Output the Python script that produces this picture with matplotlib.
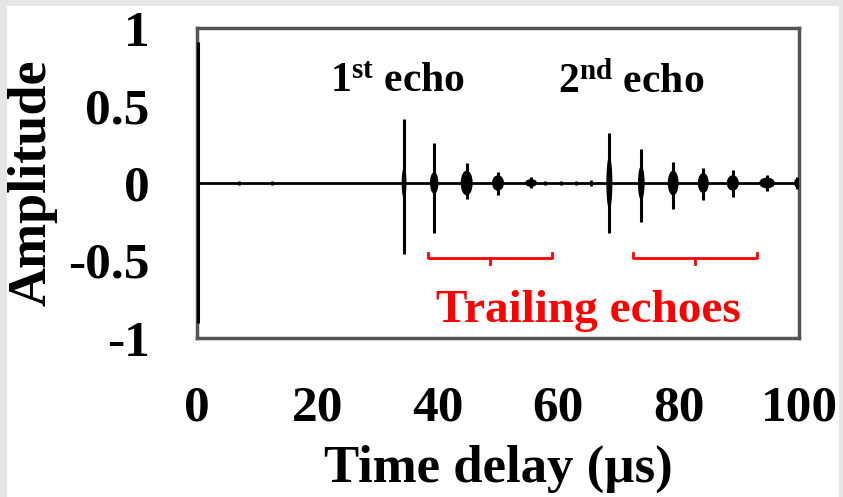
import matplotlib
matplotlib.use("Agg")
import matplotlib.pyplot as plt
from matplotlib.patches import Ellipse, Rectangle

plt.rcParams['font.family'] = ['Liberation Serif', 'DejaVu Serif']
plt.rcParams['font.weight'] = 'bold'
plt.rcParams['mathtext.fontset'] = 'custom'
plt.rcParams['mathtext.rm'] = 'Liberation Serif:bold'
plt.rcParams['mathtext.bf'] = 'Liberation Serif:bold'

# echo packets: time (us), peak up, peak down
echo_t = [0.1, 34.4, 39.4, 44.8, 50.0, 55.5, 68.5, 73.8, 79.1, 84.1, 89.0, 94.7, 99.7]
echo_max = [0.91, 0.41, 0.26, 0.13, 0.07, 0.04, 0.32, 0.22, 0.135, 0.095, 0.085, 0.05, 0.04]
echo_min = [-0.90, -0.46, -0.32, -0.10, -0.075, -0.03, -0.32, -0.25, -0.17, -0.11, -0.09, -0.05, -0.04]
# ringing blob round each packet: width (us), half height
blob_w = [0.6, 0.8, 1.4, 2.0, 2.0, 2.0, 1.0, 1.1, 1.8, 1.8, 2.0, 2.6, 1.0]
blob_h = [0.05, 0.10, 0.07, 0.08, 0.05, 0.025, 0.17, 0.11, 0.08, 0.065, 0.05, 0.035, 0.03]
# small noise bumps on the baseline
noise_t = [7.0, 12.5, 57.8, 60.5, 63.0, 65.5]
noise_h = [0.012, 0.01, 0.015, 0.015, 0.012, 0.02]

xticks = [0, 20, 40, 60, 80, 100]
yticks = [-1, -0.5, 0, 0.5, 1]
ytick_labels = ['-1', '-0.5', '0', '0.5', '1']

fig = plt.figure(figsize=(8.43, 4.97), dpi=100)
fig.patch.set_facecolor('#e6e6e6')
fig.add_artist(Rectangle((7 / 843, 0), 832 / 843, 491 / 497,
                         transform=fig.transFigure, facecolor='white',
                         edgecolor='none', zorder=-10))

ax = fig.add_axes([197 / 843, (497 - 338) / 497, 602 / 843, 310 / 497])
ax.set_xlim(0, 100)
ax.set_ylim(-1, 1)

ax.axhline(0, color='black', lw=2.0, zorder=2)
ax.vlines(echo_t, echo_min, echo_max, color='black', lw=2.2, zorder=3)
for t, w, h in zip(echo_t, blob_w, blob_h):
    ax.add_patch(Ellipse((t, 0), w, 2 * h, facecolor='black', edgecolor='none', zorder=3))
ax.vlines(noise_t, [-h for h in noise_h], noise_h, color='black', lw=2, zorder=3)

# brackets under trailing echoes
for a, b in [(38.4, 59.0), (72.4, 93.0)]:
    m = (a + b) / 2
    ax.plot([a, a, b, b], [-0.45, -0.484, -0.484, -0.45], color='red', lw=2)
    ax.plot([m, m], [-0.484, -0.52], color='red', lw=2)

ax.text(22.1, 0.587, r'$\mathbf{1^{st}}$ echo', fontsize=30, ha='left', va='baseline')
ax.text(60.0, 0.587, r'$\mathbf{2^{nd}}$ echo', fontsize=30, ha='left', va='baseline')
ax.text(65.0, -0.897, 'Trailing echoes', fontsize=34, color='red', ha='center', va='baseline')

ax.set_xticks(xticks)
ax.set_yticks(yticks)
ax.set_yticklabels(ytick_labels)
ax.tick_params(length=0, labelsize=37, pad=34)
ax.set_xlabel('Time delay (\u00b5s)', fontsize=38, fontweight='bold', labelpad=10)
ax.set_ylabel('Amplitude', fontsize=39, fontweight='bold')
ax.yaxis.set_label_coords(-0.231, 0.5)

for s in ax.spines.values():
    s.set_color('#555555')
    s.set_linewidth(2.5)

fig.savefig('out.png', dpi=100, facecolor=fig.get_facecolor())
